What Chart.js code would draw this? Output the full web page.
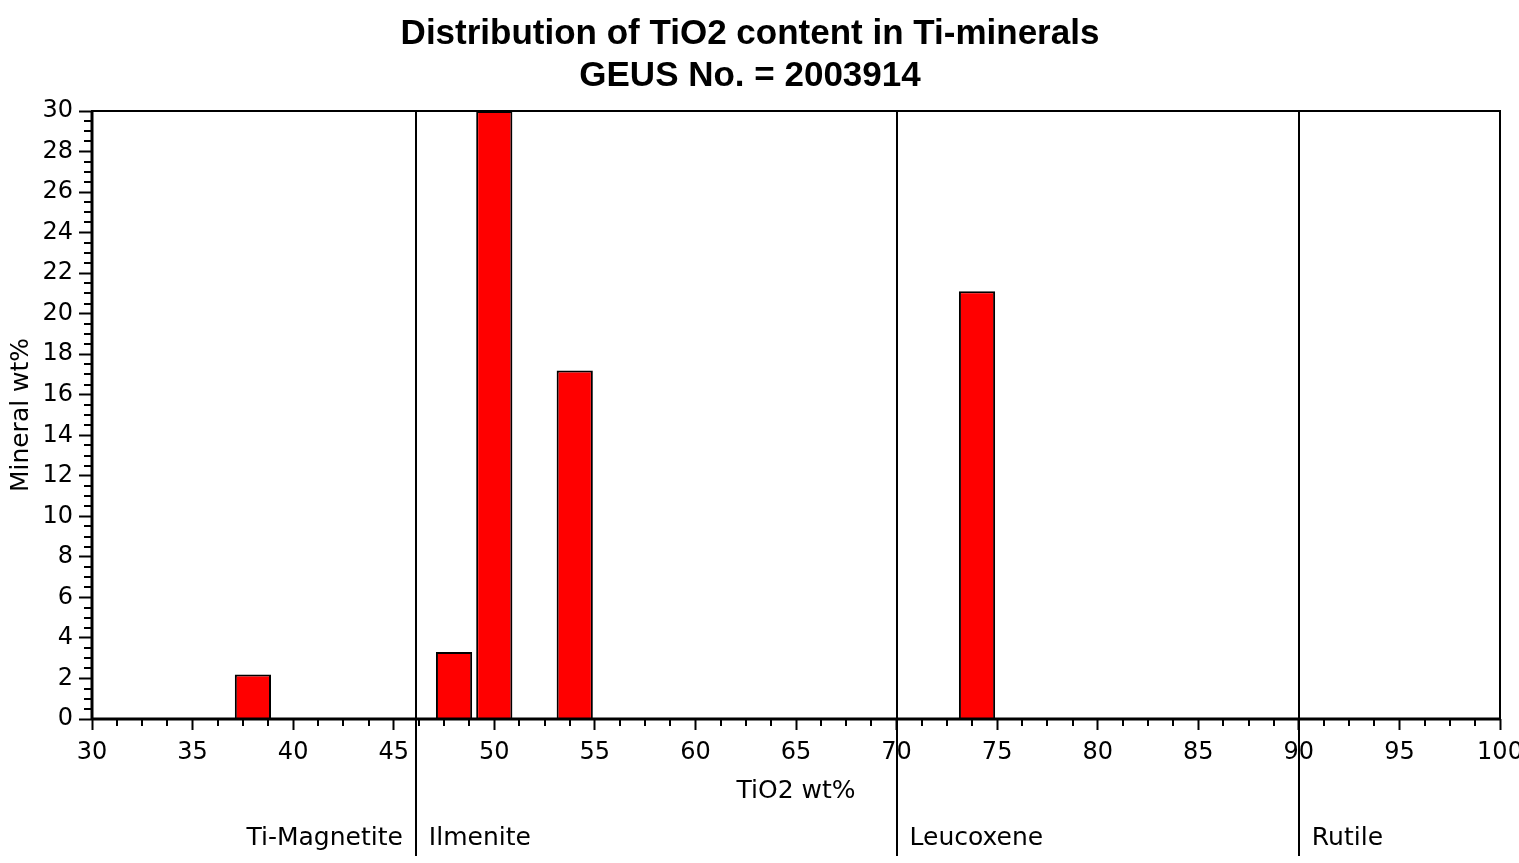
<!DOCTYPE html>
<html>
<head>
<meta charset="utf-8">
<title>Distribution of TiO2 content in Ti-minerals</title>
<script src="https://cdn.jsdelivr.net/npm/chart.js@4.4.0/dist/chart.umd.min.js"></script>
<style>
  html, body { margin: 0; padding: 0; background: #fff; }
  #wrap { width: 1519px; height: 863px; }
</style>
</head>
<body>
<div id="wrap"><canvas id="chart" width="1519" height="863"></canvas></div>
<script>
// TiO2 bins (wt%) and mineral wt% in each
const binCentres = [38, 48, 50, 54, 74];
const mineralWt = [2.2, 3.3, 30, 17.2, 21.1];

// mineral fields along the TiO2 axis
const zoneNames = ['Ti-Magnetite', 'Ilmenite', 'Leucoxene', 'Rutile'];
const zoneLimits = [46.1, 70, 90];

const xRange = [30, 100];
const yRange = [0, 30];
const xMajor = 5, xMinor = 1.25;
const yMajor = 2, yMinor = 0.5;

const labelFont = '25px "DejaVu Sans"';

function seg(ctx, x1, y1, x2, y2) {
  ctx.beginPath();
  ctx.moveTo(x1, y1);
  ctx.lineTo(x2, y2);
  ctx.stroke();
}

// minor ticks, frame, field boundaries and field names
const decorations = {
  id: 'decorations',
  afterDraw(chart) {
    const { ctx, chartArea: a, scales: { x, y } } = chart;
    ctx.save();
    ctx.strokeStyle = '#000';
    ctx.fillStyle = '#000';

    ctx.lineWidth = 2;
    for (let v = xRange[0]; v <= xRange[1]; v += xMinor) {
      if (v % xMajor === 0) continue;
      const px = Math.round(x.getPixelForValue(v));
      seg(ctx, px, a.bottom, px, a.bottom + 7);
    }
    for (let v = yRange[0]; v <= yRange[1]; v += yMinor) {
      if (v % yMajor === 0) continue;
      const py = Math.round(y.getPixelForValue(v));
      seg(ctx, a.left - 8, py, a.left, py);
    }

    ctx.lineWidth = 2;
    ctx.strokeRect(a.left, a.top, a.right - a.left, a.bottom - a.top);
    ctx.lineWidth = 3;
    seg(ctx, a.left, a.top, a.left, a.bottom + 1);
    seg(ctx, a.left, a.bottom, a.right, a.bottom);

    ctx.lineWidth = 2;
    zoneLimits.forEach(v => {
      const px = Math.round(x.getPixelForValue(v));
      seg(ctx, px, a.top, px, 856);
    });

    ctx.font = labelFont;
    ctx.textBaseline = 'middle';
    zoneNames.forEach((name, i) => {
      if (i === 0) {
        ctx.textAlign = 'right';
        ctx.fillText(name, x.getPixelForValue(zoneLimits[0]) - 13, 838);
      } else {
        ctx.textAlign = 'left';
        ctx.fillText(name, x.getPixelForValue(zoneLimits[i - 1]) + 13, 838);
      }
    });
    ctx.restore();
  }
};

new Chart(document.getElementById('chart').getContext('2d'), {
  type: 'bar',
  data: {
    datasets: [{
      label: 'Mineral wt%',
      data: binCentres.map((c, i) => ({ x: c, y: mineralWt[i] })),
      backgroundColor: '#ff0000',
      borderColor: '#000',
      borderWidth: 2,
      categoryPercentage: 0.9,
      barPercentage: 1.0
    }]
  },
  options: {
    responsive: false,
    animation: false,
    layout: { padding: { left: 0, right: 19, top: 0, bottom: 0 } },
    plugins: {
      legend: { display: false },
      tooltip: { enabled: false },
      title: {
        display: true,
        text: ['Distribution of TiO2 content in Ti-minerals', 'GEUS No. = 2003914'],
        color: '#000',
        font: { family: '"Liberation Sans Narrow", "Liberation Sans", Arial', size: 35, weight: 'bold', lineHeight: 1.2 },
        padding: { top: 13, bottom: 14 }
      }
    },
    scales: {
      x: {
        type: 'linear',
        min: xRange[0],
        max: xRange[1],
        offset: false,
        grid: { offset: false, drawOnChartArea: false, tickLength: 11, tickWidth: 2, tickColor: '#000' },
        border: { display: false },
        ticks: { stepSize: xMajor, color: '#000', padding: 8, maxRotation: 0, font: { family: '"DejaVu Sans"', size: 24 } },
        title: { display: true, text: 'TiO2 wt%', color: '#000', font: { family: '"DejaVu Sans"', size: 25 }, padding: { bottom: 57 } },
        afterFit(scale) { scale.height = 144; scale.paddingLeft = 0; scale.paddingRight = 0; }
      },
      y: {
        min: yRange[0],
        max: yRange[1],
        grid: { drawOnChartArea: false, tickLength: 13, tickWidth: 2, tickColor: '#000' },
        border: { display: false },
        ticks: { stepSize: yMajor, color: '#000', padding: 6, font: { family: '"DejaVu Sans"', size: 24 } },
        title: { display: true, text: 'Mineral wt%', color: '#000', font: { family: '"DejaVu Sans"', size: 25 }, padding: { top: 6 } },
        afterFit(scale) { scale.width = 92; scale.paddingTop = 0; scale.paddingBottom = 0; }
      }
    }
  },
  plugins: [decorations]
});
</script>
</body>
</html>
